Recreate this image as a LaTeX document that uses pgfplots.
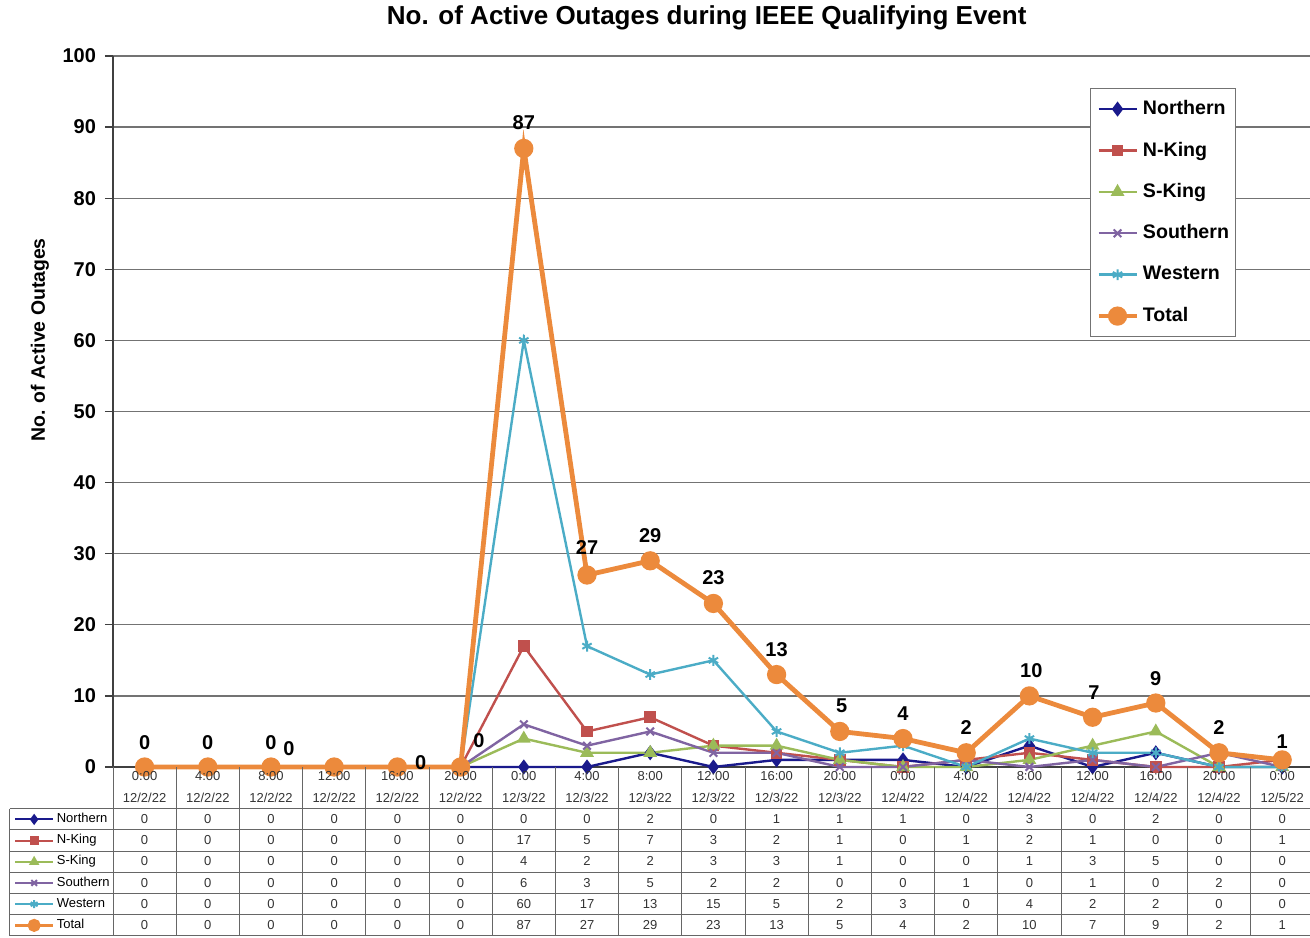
\documentclass[border=0pt]{standalone}
\usepackage{pgfplots}
\usepackage{pgfplotstable}
\pgfplotsset{compat=1.18}
\usepackage{fontspec}
\setmainfont{Liberation Sans}
\usetikzlibrary{plotmarks}

\definecolor{cNorth}{HTML}{1A1A8C}
\definecolor{cNK}{HTML}{C0504D}
\definecolor{cSK}{HTML}{9BBB59}
\definecolor{cSo}{HTML}{8064A2}
\definecolor{cWe}{HTML}{4BACC6}
\definecolor{cTo}{HTML}{EC8A3C}

\newcommand\tabfont{\fontsize{6.5}{7.5}\selectfont}

\pgfplotstableread{
x north nking sking south west total
0 0 0 0 0 0 0
1 0 0 0 0 0 0
2 0 0 0 0 0 0
3 0 0 0 0 0 0
4 0 0 0 0 0 0
5 0 0 0 0 0 0
6 0 17 4 6 60 87
7 0 5 2 3 17 27
8 2 7 2 5 13 29
9 0 3 3 2 15 23
10 1 2 3 2 5 13
11 1 1 1 0 2 5
12 1 0 0 0 3 4
13 0 1 0 1 0 2
14 3 2 1 0 4 10
15 0 1 3 1 2 7
16 2 0 5 0 2 9
17 0 0 0 2 0 2
18 0 1 0 0 0 1
}\datatable

\begin{document}
\begin{tikzpicture}
\useasboundingbox (-56.5pt,-85pt) rectangle (598.5pt,383.5pt);

% table keys (legend of a hidden axis)
\begin{axis}[
  scale only axis, width=598.5pt, height=355.5pt,
  hide axis, xmin=0, xmax=1, ymin=0, ymax=1,
  legend style={at={(-0.0835,-0.0582)}, anchor=north west, draw=none, fill=none,
    inner xsep=0pt, inner ysep=0pt, row sep=0pt, column sep=1pt,
    font=\tabfont, cells={anchor=west},
    nodes={inner sep=0pt, minimum height=10.6pt}},
  legend image code/.code={\draw[mark repeat=2,mark phase=2] plot coordinates {(0pt,0pt) (9.5pt,0pt) (19pt,0pt)};},
]
\addlegendimage{cNorth, line width=1pt, mark=diamond*, mark size=2pt}
\addlegendentry{Northern}
\addlegendimage{cNK, line width=1pt, mark=square*, mark size=1.7pt}
\addlegendentry{N-King}
\addlegendimage{cSK, line width=1pt, mark=triangle*, mark size=2pt}
\addlegendentry{S-King}
\addlegendimage{cSo, line width=1pt, mark=x, mark size=2pt}
\addlegendentry{Southern}
\addlegendimage{cWe, line width=1pt, mark=asterisk, mark size=2pt}
\addlegendentry{Western}
\addlegendimage{cTo, line width=1.7pt, mark=*, mark size=2.4pt}
\addlegendentry{Total}
\end{axis}

\begin{axis}[
  scale only axis, width=598.5pt, height=355.5pt,
  xmin=-0.5, xmax=18.44, ymin=0, ymax=100,
  axis x line*=bottom, axis y line*=left,
  axis line style={black!75, line width=0.7pt},
  xtick=\empty, ytick={0,10,...,100},
  ymajorgrids, grid style={black!55, line width=0.6pt},
  tick align=outside, major tick length=4pt,
  tick style={black!75, line width=0.6pt},
  /pgf/number format/assume math mode=true,
  yticklabel style={font=\bfseries\fontsize{10}{12}\selectfont, xshift=-1pt},
  clip=false,
  legend style={at={(0.816,0.955)}, anchor=north west, draw=black!55, fill=white,
    inner xsep=3pt, inner ysep=0pt, row sep=0pt, column sep=2pt,
    font=\bfseries\fontsize{9.8}{12}\selectfont, cells={anchor=west},
    nodes={inner sep=0pt, minimum height=20.7pt}},
  legend image code/.code={\draw[mark repeat=2,mark phase=2] plot coordinates {(0pt,0pt) (9.5pt,0pt) (19pt,0pt)};},
]
\addplot[cNorth, line width=1.2pt, mark=diamond*, mark size=2.8pt] table[x=x, y=north] {\datatable};
\addlegendentry{Northern}
\addplot[cNK, line width=1.2pt, mark=square*, mark size=2.3pt] table[x=x, y=nking] {\datatable};
\addlegendentry{N-King}
\addplot[cSK, line width=1.2pt, mark=triangle*, mark size=2.8pt] table[x=x, y=sking] {\datatable};
\addlegendentry{S-King}
\addplot[cSo, line width=1.2pt, mark=x, mark size=2.7pt, mark options={line width=1pt}] table[x=x, y=south] {\datatable};
\addlegendentry{Southern}
\addplot[cWe, line width=1.2pt, mark=asterisk, mark size=2.7pt, mark options={line width=1pt}] table[x=x, y=west] {\datatable};
\addlegendentry{Western}
\addplot[cTo, line width=2.4pt, mark=*, mark size=3.6pt] table[x=x, y=total] {\datatable};
\addlegendentry{Total}

% data labels of Total
\begin{scope}[every node/.style={font=\bfseries\fontsize{10}{12}\selectfont}]
\node at (axis cs:0,3.5) {0};
\node at (axis cs:1,3.5) {0};
\node at (axis cs:2,3.5) {0};
\node at (axis cs:2.285,2.53) {0};
\node at (axis cs:4.37,0.56) {0};
\node at (axis cs:5.29,3.66) {0};
\node at (axis cs:6,90.7) {87};
\node at (axis cs:7,30.8) {27};
\node at (axis cs:8,32.6) {29};
\node at (axis cs:9,26.7) {23};
\node at (axis cs:10,16.5) {13};
\node at (axis cs:11.03,8.6) {5};
\node at (axis cs:12,7.45) {4};
\node at (axis cs:13,5.5) {2};
\node at (axis cs:14.03,13.6) {10};
\node at (axis cs:15.02,10.5) {7};
\node at (axis cs:16,12.4) {9};
\node at (axis cs:17,5.5) {2};
\node at (axis cs:18,3.5) {1};
\end{scope}

\node[font=\bfseries\fontsize{13}{15}\selectfont] at (rel axis cs:0.496,1.053) {No. of Active Outages during IEEE Qualifying Event};
\node[font=\bfseries\fontsize{9.7}{12}\selectfont, rotate=90] at (rel axis cs:-0.061,0.6006) {No. of Active Outages};
\end{axis}

% data table below the chart
\begin{scope}[x=31.6pt, y=-0.5pt, xshift=15.8pt]
  \foreach \yy in {41.5,62.7,84,105,126.4,147.6,168.8}
    \draw[black!60, line width=0.5pt] (-2.13,\yy) -- (19,\yy);
  \foreach \k in {0,...,19}
    \draw[black!60, line width=0.5pt] ({\k-0.5},0) -- ({\k-0.5},168.8);
  \draw[black!60, line width=0.5pt] (-2.13,41.5) -- (-2.13,168.8);
  \foreach \t [count=\i from 0] in {0:00,4:00,8:00,12:00,16:00,20:00,0:00,4:00,8:00,12:00,16:00,20:00,0:00,4:00,8:00,12:00,16:00,20:00,0:00}
    \node[font=\tabfont, text=black!80] at (\i,9.5) {\t};
  \foreach \d [count=\i from 0] in {{12/2/22},{12/2/22},{12/2/22},{12/2/22},{12/2/22},{12/2/22},{12/3/22},{12/3/22},{12/3/22},{12/3/22},{12/3/22},{12/3/22},{12/4/22},{12/4/22},{12/4/22},{12/4/22},{12/4/22},{12/4/22},{12/5/22}}
    \node[font=\tabfont, text=black!80] at (\i,30.5) {\d};
  \foreach \col [count=\r from 0] in {north,nking,sking,south,west,total} {
    \foreach \i in {0,...,18} {
      \pgfplotstablegetelem{\i}{\col}\of\datatable
      \node[font=\tabfont, text=black!80] at (\i,{52+21.2*\r}) {\pgfplotsretval};
    }
  }
\end{scope}
\end{tikzpicture}
\end{document}
